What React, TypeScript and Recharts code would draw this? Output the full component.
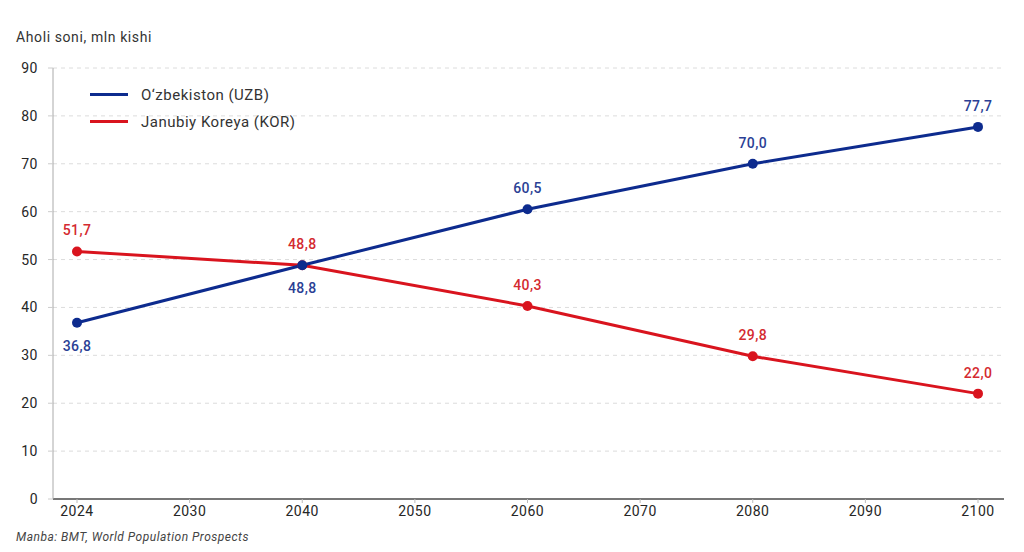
import React from 'react';
import { LineChart, Line, XAxis, YAxis, CartesianGrid } from 'recharts';

const years = ['2024', '2030', '2040', '2050', '2060', '2070', '2080', '2090', '2100'];
const uzbValues: (number | null)[] = [36.8, null, 48.8, null, 60.5, null, 70.0, null, 77.7];
const korValues: (number | null)[] = [51.7, null, 48.8, null, 40.3, null, 29.8, null, 22.0];
const uzbLabelSide = ['below', '', 'below', '', 'above', '', 'above', '', 'above'];
const korLabelSide = ['above', '', 'above', '', 'above', '', 'above', '', 'above'];
const yTicks = [0, 10, 20, 30, 40, 50, 60, 70, 80, 90];

const UZB_COLOR = '#0d2b8e';
const UZB_LABEL = '#2b3f95';
const KOR_COLOR = '#d9141e';
const KOR_LABEL = '#d42a30';

const data = years.map((y, i) => ({ year: y, uzb: uzbValues[i], kor: korValues[i] }));

const fmt = (v: number) => v.toFixed(1).replace('.', ',');

const makeLabel = (sides: string[], color: string) => (props: any) => {
  const { x, y, value, index } = props;
  if (value == null) return null;
  const side = sides[index];
  const dy = side === 'below' ? 23 : -21;
  return (
    <text
      x={x}
      y={y + dy}
      textAnchor="middle"
      dominantBaseline="central"
      fill={color}
      fontSize={14}
      fontWeight={500}
      fontFamily="Roboto"
      letterSpacing={0.4}
    >
      {fmt(value)}
    </text>
  );
};

const legendItems = [
  { name: 'O‘zbekiston (UZB)', color: UZB_COLOR },
  { name: 'Janubiy Koreya (KOR)', color: KOR_COLOR },
];

const tickStyle = { fill: '#262626', fontSize: 14, fontFamily: 'Roboto', letterSpacing: 0.5 };

export default function App() {
  return (
    <div
      style={{
        position: 'absolute',
        left: 0,
        top: 0,
        width: 1024,
        height: 552,
        background: '#fff',
        fontFamily: 'Roboto',
      }}
    >
      <div
        style={{
          position: 'absolute',
          left: 16,
          top: 29,
          fontSize: 14,
          letterSpacing: 0.6,
          color: '#333',
        }}
      >
        Aholi soni, mln kishi
      </div>
      <LineChart
        width={1024}
        height={552}
        data={data}
        margin={{ top: 68, right: 20, bottom: 23, left: 0 }}
      >
        <CartesianGrid vertical={false} stroke="#dcdcdc" strokeDasharray="4 4" />
        <XAxis
          dataKey="year"
          type="category"
          padding={{ left: 24, right: 26 }}
          stroke="#777"
          strokeWidth={2}
          tickSize={4}
          tickMargin={3}
          tick={tickStyle}
          tickLine={{ stroke: '#bbb', strokeWidth: 1 }}
        />
        <YAxis
          width={53}
          domain={[0, 90]}
          ticks={yTicks}
          type="number"
          stroke="#aaa"
          tickSize={5}
          tickMargin={10}
          tick={tickStyle}
          tickLine={{ stroke: '#ccc' }}
        />
        <Line
          dataKey="kor"
          stroke={KOR_COLOR}
          strokeWidth={3}
          connectNulls
          dot={{ r: 5, fill: KOR_COLOR, stroke: KOR_COLOR, strokeWidth: 0 }}
          activeDot={false}
          isAnimationActive={false}
          label={makeLabel(korLabelSide, KOR_LABEL)}
        />
        <Line
          dataKey="uzb"
          stroke={UZB_COLOR}
          strokeWidth={3}
          connectNulls
          dot={{ r: 5, fill: UZB_COLOR, stroke: UZB_COLOR, strokeWidth: 0 }}
          activeDot={false}
          isAnimationActive={false}
          label={makeLabel(uzbLabelSide, UZB_LABEL)}
        />
      </LineChart>
      <div
        style={{
          position: 'absolute',
          left: 90,
          top: 81,
          fontSize: 15,
          letterSpacing: 0.5,
          color: '#333',
        }}
      >
        {legendItems.map((it) => (
          <div key={it.name} style={{ display: 'flex', alignItems: 'center', height: 27 }}>
            <div style={{ width: 38, height: 3, background: it.color, marginRight: 13 }} />
            <span>{it.name}</span>
          </div>
        ))}
      </div>
      <div
        style={{
          position: 'absolute',
          left: 16,
          top: 530,
          fontSize: 12,
          letterSpacing: 0.5,
          fontStyle: 'italic',
          color: '#444',
        }}
      >
        Manba: BMT, World Population Prospects
      </div>
    </div>
  );
}
